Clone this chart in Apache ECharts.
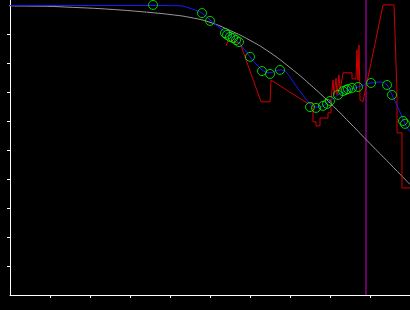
<!DOCTYPE html>
<html>
<head>
<meta charset="utf-8">
<script src="https://cdn.jsdelivr.net/npm/echarts@6/dist/echarts.min.js"></script>
<style>html,body{margin:0;padding:0;background:#000;}#c{width:410px;height:310px;}</style>
</head>
<body>
<div id="c"></div>
<script>
// Data (arbitrary chart units: x 0..10, y 0..10)
const grayX = [-0.25,0,0.5,1,1.5,2,2.5,3,3.5,4,4.5,5,5.5,6,6.5,7,7.5,8,8.5,9,9.5,10];
const grayY = [9.99,9.97,9.96,9.95,9.92,9.89,9.85,9.80,9.74,9.67,9.57,9.40,9.12,8.78,8.36,7.84,7.26,6.62,5.93,5.22,4.52,3.81];

const blueX = [0,2.25,3.5,4.25,4.55,4.8,5.0,5.375,5.725,6.0,6.3,6.5,6.75,6.9,7.15,7.5,7.65,7.825,8.0,8.325,8.7,9.025,9.275,9.425,9.55,9.75,9.875,10];
const blueY = [9.98,9.98,9.98,9.97,9.86,9.72,9.48,9.07,8.69,8.21,7.76,7.66,7.76,7.69,7.21,6.59,6.48,6.52,6.69,7.0,7.17,7.31,7.34,7.24,6.9,6.31,5.9,5.62];

const pointX = [3.575,4.8,5.0,5.375,5.425,5.5,5.575,5.65,5.725,6.0,6.3,6.5,6.75,7.5,7.65,7.825,7.925,8.0,8.2,8.325,8.4,8.45,8.55,8.7,9.025,9.425,9.55,9.825,9.875];
const pointY = [10.0,9.72,9.45,9.03,8.97,8.9,8.86,8.79,8.72,8.21,7.72,7.62,7.76,6.48,6.45,6.52,6.59,6.69,6.9,7.03,7.07,7.10,7.14,7.17,7.31,7.24,6.9,6.0,5.9];

const redX = [5.4,5.45,5.45,5.75,6.275,6.5,6.525,7.425,7.575,7.575,7.65,7.65,7.75,7.75,7.95,7.95,8.025,8.025,8.075,8.075,8.1,8.15,8.175,8.225,8.25,8.275,8.325,8.55,8.55,8.65,8.675,8.7,8.725,8.75,8.825,8.85,9.325,9.6,9.675,9.675,9.8,9.8,10];
const redY = [8.59,8.59,8.76,8.69,6.66,6.66,7.41,6.62,6.62,5.97,5.97,5.83,5.83,6.10,6.10,6.28,6.28,6.72,6.72,7.41,6.90,7.48,6.90,7.59,7.07,7.24,7.66,7.66,7.45,7.45,8.45,7.41,8.62,6.72,6.66,6.83,10.0,10.0,6.97,5.59,5.59,3.69,3.69];

const markerX = 8.9;
const xTicks = [1,2,3,4,5,6,7,8,9];
const yTicks = [1,2,3,4,5,6,7,8,9];

const zip = (a, b) => a.map((v, i) => [v, b[i]]);
const yMax = 10.17;

const chart = echarts.init(document.getElementById('c'));
chart.setOption({
  animation: false,
  backgroundColor: '#000000',
  grid: { left: 10, right: 0, top: 0, bottom: 15, containLabel: false },
  xAxis: {
    type: 'value', min: 0, max: 10,
    axisLine: { show: true, onZero: false, lineStyle: { color: '#ffffff', width: 1 } },
    axisTick: { show: true, length: 3, customValues: xTicks, lineStyle: { color: '#ffffff', width: 1 } },
    axisLabel: { show: false },
    splitLine: { show: false }
  },
  yAxis: {
    type: 'value', min: 0, max: yMax,
    axisLine: { show: true, onZero: false, lineStyle: { color: '#ffffff', width: 1 } },
    axisTick: { show: true, length: 3, customValues: yTicks, lineStyle: { color: '#ffffff', width: 1 } },
    axisLabel: { show: false },
    splitLine: { show: false }
  },
  series: [
    { type: 'line', data: [[markerX, 0], [markerX, yMax]], showSymbol: false, silent: true,
      lineStyle: { color: '#8b008b', width: 1.5 }, z: 1 },
    { type: 'line', data: zip(grayX, grayY), showSymbol: false, smooth: 0.5, clip: false,
      lineStyle: { color: '#9a9a9a', width: 1 }, z: 2 },
    { type: 'line', data: zip(redX, redY), showSymbol: false,
      lineStyle: { color: '#d00000', width: 1 }, z: 3 },
    { type: 'line', data: zip(blueX, blueY), showSymbol: false, smooth: 0.35,
      lineStyle: { color: '#1a1aff', width: 1 }, z: 4 },
    { type: 'scatter', data: zip(pointX, pointY), symbol: 'circle', symbolSize: 9,
      itemStyle: { color: 'rgba(0,0,0,0)', borderColor: '#00ff00', borderWidth: 1 }, z: 5 }
  ]
});
</script>
</body>
</html>
